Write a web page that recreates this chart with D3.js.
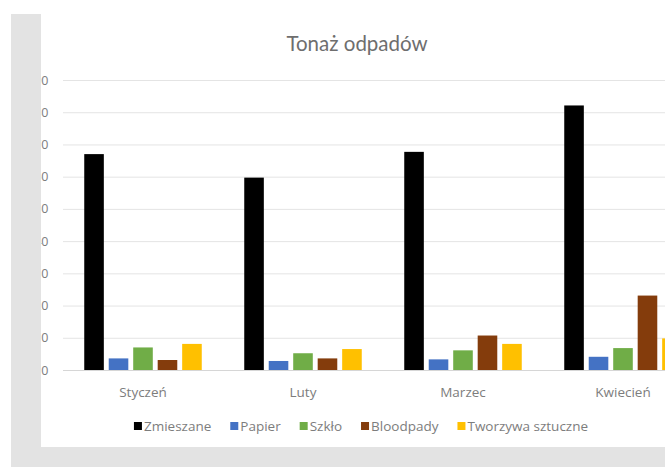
<!DOCTYPE html>
<html>
<head>
<meta charset="utf-8">
<script src="https://cdn.jsdelivr.net/npm/d3@7"></script>
<style>
  body { margin: 0; background: #fff; }
  text { font-family: "Open Sans", Lato, sans-serif; }
</style>
</head>
<body>
<svg id="chart" width="665" height="468"></svg>
<script>
// months on the x axis
const categories = ['Styczeń', 'Luty', 'Marzec', 'Kwiecień']
const seriesNames = ['Zmieszane', 'Papier', 'Szkło', 'Bloodpady', 'Tworzywa sztuczne']
// values (axis labels are cut, so units are a guess)
const zmieszane = [67.0, 59.7, 67.7, 82.1]
const papier = [3.6, 2.8, 3.3, 4.1]
const szklo = [7.0, 5.2, 6.1, 6.8]
const bloodpady = [3.1, 3.6, 10.7, 23.1]
const tworzywa = [8.1, 6.5, 8.1, 9.8]
const yTicks = [0, 10, 20, 30, 40, 50, 60, 70, 80, 90]

const seriesValues = [zmieszane, papier, szklo, bloodpady, tworzywa]
const colors = ['#000000', '#4472c4', '#70ad47', '#843c0c', '#ffc000']

const svg = d3.select('#chart')

// grey frame around the (cropped) chart area
svg.append('rect').attr('x', 11).attr('y', 14).attr('width', 654).attr('height', 453).attr('fill', '#e3e3e3')
svg.append('rect').attr('x', 41).attr('y', 14).attr('width', 624).attr('height', 433).attr('fill', '#ffffff')

svg.append('clipPath').attr('id', 'clip')
    .append('rect').attr('x', 41).attr('y', 14).attr('width', 624).attr('height', 433)

const g = svg.append('g').attr('clip-path', 'url(#clip)')

const x0 = d3.scaleBand()
    .domain(categories)
    .range([63, 703])
    .paddingInner(0.235)
    .paddingOuter(0.1175)
const x1 = d3.scaleBand()
    .domain(seriesNames)
    .range([0, x0.bandwidth()])
    .paddingInner(0.2)
    .paddingOuter(0.1)
const y = d3.scaleLinear().domain([0, 90]).range([370, 80])

// gridlines
g.selectAll('.grid')
    .data(yTicks)
    .enter()
    .append('line')
    .attr('x1', 63)
    .attr('x2', 703)
    .attr('y1', d => y(d) + 0.5)
    .attr('y2', d => y(d) + 0.5)
    .attr('stroke', d => d === 0 ? '#d6d6d6' : '#e4e4e4')
    .attr('stroke-width', 1)

// y labels, mostly cut off by the crop
g.selectAll('.ylab')
    .data(yTicks)
    .enter()
    .append('text')
    .attr('x', 48.5)
    .attr('y', d => y(d) + 4.5)
    .attr('text-anchor', 'end')
    .attr('fill', '#7d7d7d')
    .style('font-size', '12.5px')
    .text(d => d)

// bars
const groups = g.selectAll('.month')
    .data(categories)
    .enter()
    .append('g')
    .attr('transform', d => 'translate(' + x0(d) + ',0)')

groups.selectAll('rect')
    .data((d, i) => seriesNames.map((s, k) => ({ s, v: seriesValues[k][i], c: colors[k] })))
    .enter()
    .append('rect')
    .attr('x', d => x1(d.s))
    .attr('width', x1.bandwidth())
    .attr('y', d => y(d.v))
    .attr('height', d => y(0) - y(d.v))
    .attr('fill', d => d.c)

// category labels
g.selectAll('.xlab')
    .data(categories)
    .enter()
    .append('text')
    .attr('x', d => x0(d) + x0.bandwidth() / 2)
    .attr('y', 397)
    .attr('text-anchor', 'middle')
    .attr('fill', '#7d7d7d')
    .style('font-size', '13.5px')
    .text(d => d)

// title
g.append('text')
    .attr('x', 357)
    .attr('y', 51)
    .attr('text-anchor', 'middle')
    .attr('fill', '#6e6e6e')
    .style('font-family', 'Lato, sans-serif')
    .style('font-size', '20.5px')
    .text('Tonaż odpadów')

// legend, laid out item by item then centred
const legend = g.append('g')
let lx = 0
seriesNames.forEach((name, k) => {
    legend.append('rect')
        .attr('x', lx).attr('y', 422).attr('width', 8).attr('height', 8)
        .attr('fill', colors[k])
    const t = legend.append('text')
        .attr('x', lx + 10)
        .attr('y', 430.5)
        .attr('fill', '#7d7d7d')
        .style('font-size', '13.5px')
        .text(name)
    lx += 10 + t.node().getComputedTextLength() + 19
})
lx -= 19
legend.attr('transform', 'translate(' + (361 - lx / 2) + ',0)')
</script>
</body>
</html>
